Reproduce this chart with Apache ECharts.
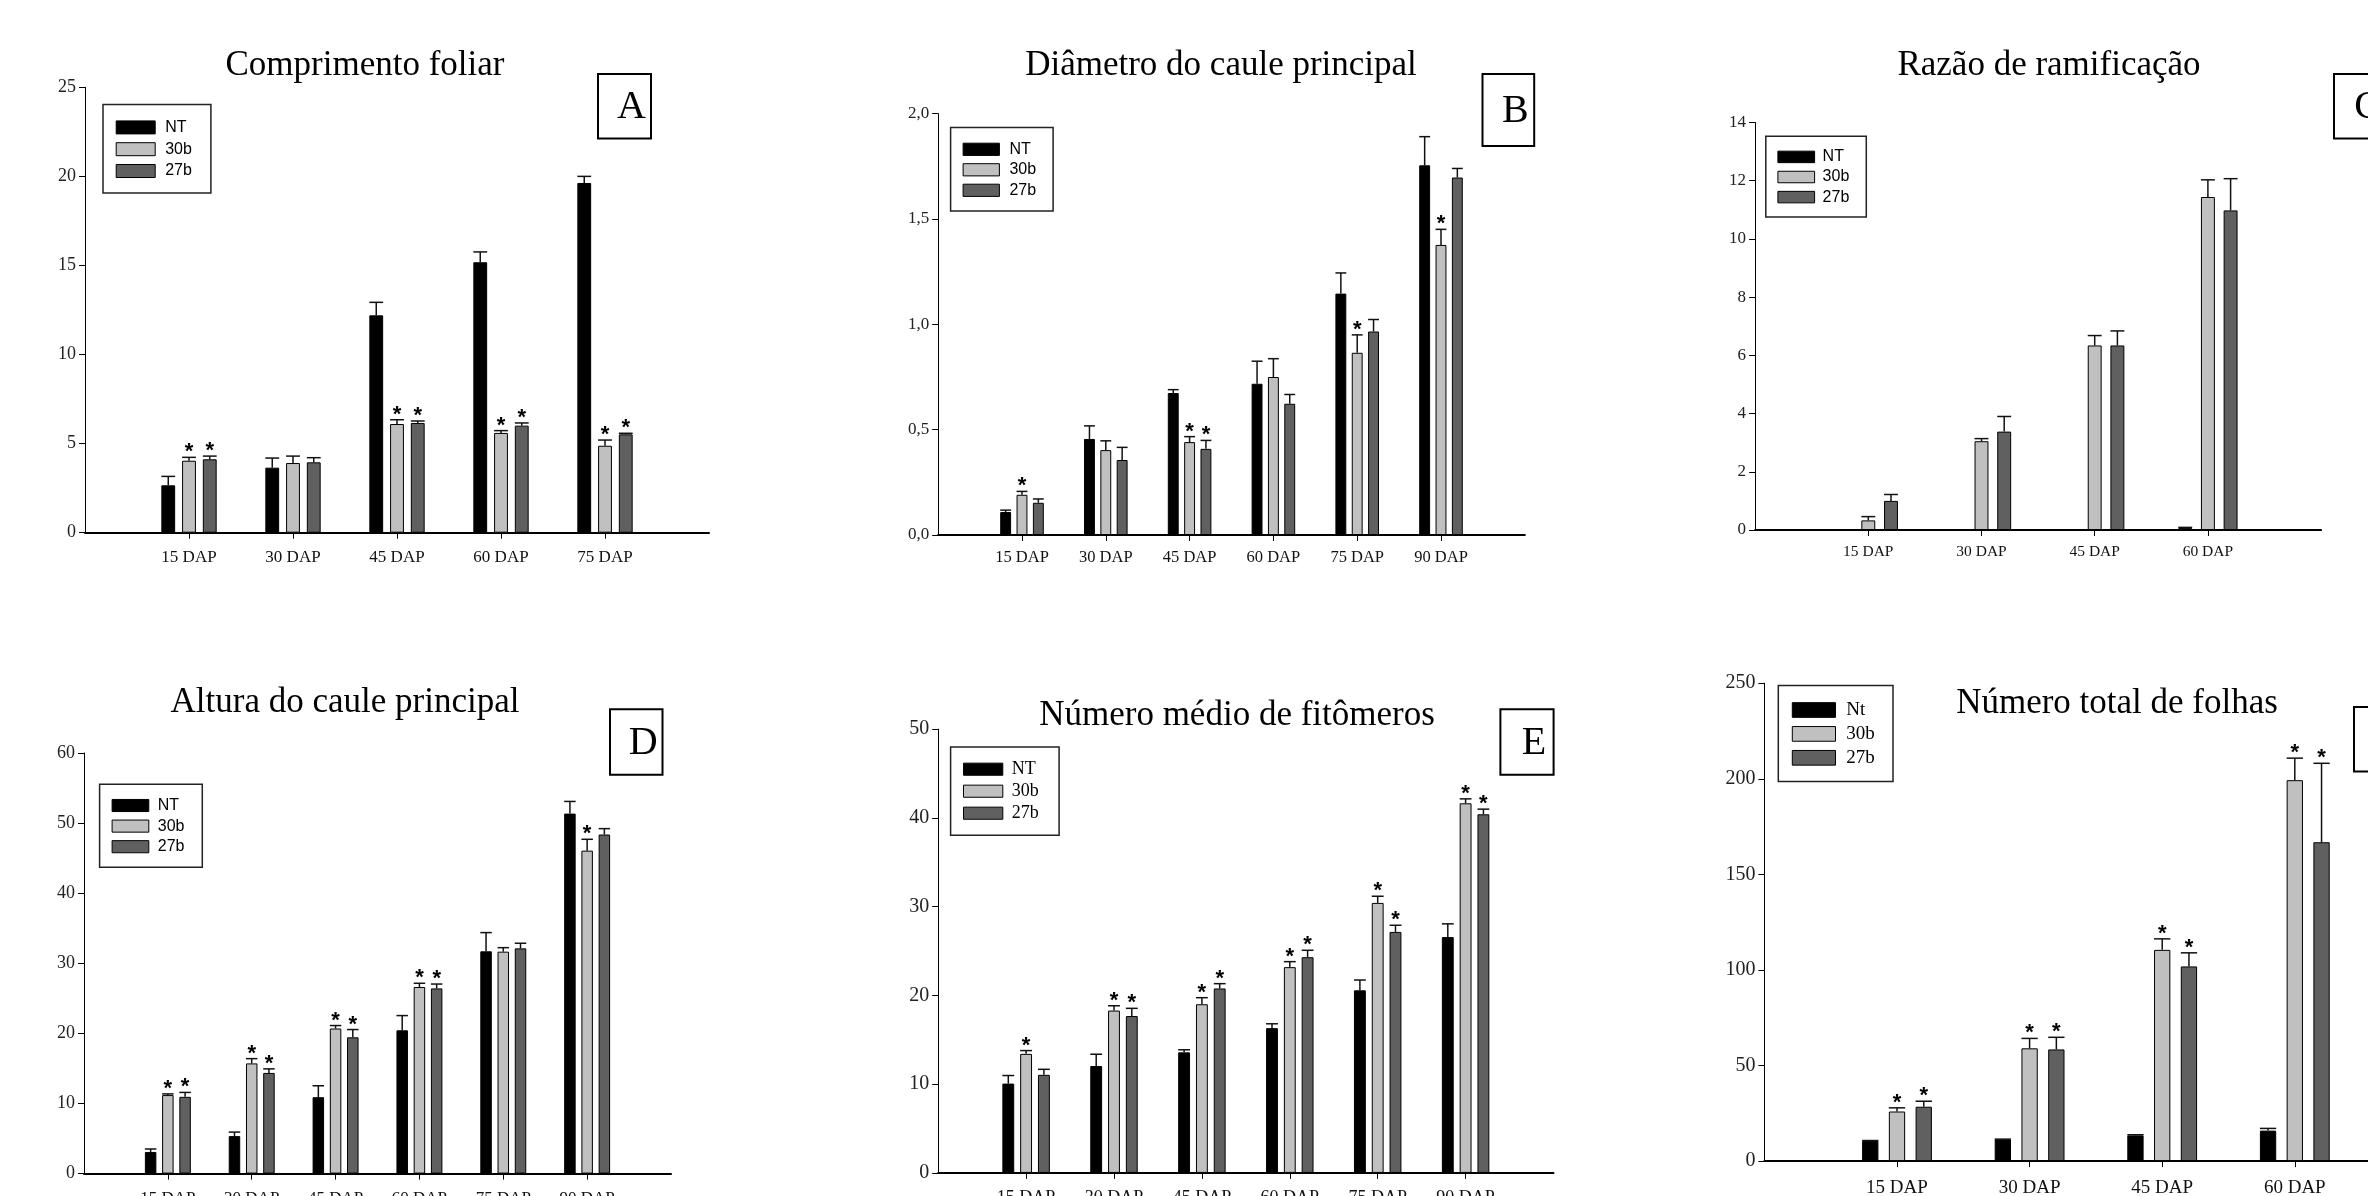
<!DOCTYPE html>
<html><head><meta charset="utf-8">
<script src="https://cdn.jsdelivr.net/npm/echarts@6/dist/echarts.min.js"></script>
<style>html,body{margin:0;padding:0;background:#fff}#c{width:2368px;height:1196px}</style>
</head><body><div id="c"></div>
<script>
// ---------------- DATA ----------------
// A: Comprimento foliar
const catA = ['15 DAP','30 DAP','45 DAP','60 DAP','75 DAP'];
const ntA = [2.66, 3.65, 12.2, 15.18, 19.63];
const ntErrA = [0.5, 0.54, 0.73, 0.58, 0.37];
const b30A = [4.04, 3.91, 6.1, 5.6, 4.88];
const b30ErrA = [0.19, 0.39, 0.24, 0.13, 0.32];
const b27A = [4.12, 3.95, 6.16, 6.01, 5.52];
const b27ErrA = [0.18, 0.26, 0.11, 0.15, 0.06];
const star30A = [1,0,1,1,1];
const star27A = [1,0,1,1,1];
// B: Diâmetro do caule principal
const catB = ['15 DAP','30 DAP','45 DAP','60 DAP','75 DAP','90 DAP'];
const ntB = [0.109, 0.456, 0.674, 0.718, 1.146, 1.755];
const ntErrB = [0.009, 0.062, 0.016, 0.107, 0.098, 0.136];
const b30B = [0.191, 0.403, 0.441, 0.75, 0.865, 1.377];
const b30ErrB = [0.016, 0.044, 0.026, 0.087, 0.085, 0.074];
const b27B = [0.153, 0.356, 0.409, 0.623, 0.966, 1.697];
const b27ErrB = [0.018, 0.06, 0.04, 0.044, 0.057, 0.043];
const star30B = [1,0,1,0,1,1];
const star27B = [0,0,1,0,0,0];
// C: Razão de ramificação
const catC = ['15 DAP','30 DAP','45 DAP','60 DAP'];
const ntC = [0, 0, 0, 0.065];
const ntErrC = [0, 0, 0, 0.025];
const b30C = [0.33, 3.05, 6.34, 11.44];
const b30ErrC = [0.13, 0.09, 0.34, 0.59];
const b27C = [1.0, 3.38, 6.34, 10.98];
const b27ErrC = [0.22, 0.52, 0.5, 1.09];
const star30C = [0,0,0,0];
const star27C = [0,0,0,0];
// D: Altura do caule principal
const catD = ['15 DAP','30 DAP','45 DAP','60 DAP','75 DAP','90 DAP'];
const ntD = [3.09, 5.35, 10.9, 20.44, 31.71, 51.36];
const ntErrD = [0.42, 0.57, 1.63, 2.1, 2.67, 1.73];
const b30D = [11.2, 15.72, 20.7, 26.62, 31.66, 46.07];
const b30ErrD = [0.17, 0.68, 0.42, 0.53, 0.57, 1.62];
const b27D = [10.95, 14.36, 19.44, 26.42, 32.13, 48.37];
const b27ErrD = [0.63, 0.58, 1.11, 0.62, 0.73, 0.84];
const star30D = [1,1,1,1,0,1];
const star27D = [1,1,1,1,0,0];
// E: Número médio de fitômeros
const catE = ['15 DAP','30 DAP','45 DAP','60 DAP','75 DAP','90 DAP'];
const ntE = [10.06, 12.04, 13.58, 16.31, 20.57, 26.57];
const ntErrE = [0.91, 1.33, 0.29, 0.49, 1.16, 1.49];
const b30E = [13.41, 18.29, 19.0, 23.18, 30.42, 41.64];
const b30ErrE = [0.37, 0.54, 0.74, 0.62, 0.75, 0.5];
const b27E = [11.05, 17.67, 20.78, 24.3, 27.15, 40.4];
const b27ErrE = [0.62, 0.87, 0.54, 0.78, 0.75, 0.58];
const star30E = [1,1,1,1,1,1];
const star27E = [0,1,1,1,1,1];
// F: Número total de folhas
const catF = ['15 DAP','30 DAP','45 DAP','60 DAP'];
const ntF = [10.57, 11.34, 13.45, 15.95];
const ntErrF = [0.19, 0.16, 0.35, 1.15];
const b30F = [25.94, 59.0, 110.5, 199.27];
const b30ErrF = [1.92, 5.18, 5.76, 11.53];
const b27F = [28.44, 58.42, 101.84, 166.8];
const b27ErrF = [2.88, 6.34, 7.11, 41.3];
const star30F = [1,1,1,1];
const star27F = [1,1,1,1];

const namesMain = ['NT','30b','27b'];
const namesF = ['Nt','30b','27b'];
// ---------------- LAYOUT / STYLE ----------------
const SERIF = '"Liberation Serif", "Times New Roman", serif';
const SANS = '"Liberation Sans", Arial, sans-serif';
const colors = ['#000000', '#c0c0c0', '#606060'];

const panels = [
  { title:'Comprimento foliar', letter:'A', cats:catA, vals:[ntA,b30A,b27A], errs:[ntErrA,b30ErrA,b27ErrA], stars:[null,star30A,star27A], names:namesMain, extra:1,
    grid:{left:85, top:87.3, width:624, height:445.4}, yMax:25, yInt:5, comma:false, yFont:18, xFont:17, xMargin:16, bw:0.133, gap:0.5,
    tpos:[365,66], box:[598,74,53,64.5],
    lg:{left:103, top:104.5, w:39, h:13, lh:16, spacing:21.8, pad:[14.9,19,14,12.7], tpad:5, font:SANS, fs:16} },
  { title:'Diâmetro do caule principal', letter:'B', cats:catB, vals:[ntB,b30B,b27B], errs:[ntErrB,b30ErrB,b27ErrB], stars:[null,star30B,star27B], names:namesMain, extra:1,
    grid:{left:938.2, top:113.7, width:586.6, height:421.3}, yMax:2, yInt:0.5, comma:true, yFont:17, xFont:16.5, xMargin:14, bw:0.13, gap:0.5,
    tpos:[1221,66], box:[1482.5,74,51.7,72],
    lg:{left:950.6, top:127.4, w:36.3, h:12.2, lh:16, spacing:20.5, pad:[13.9,17,12.6,12], tpad:5, font:SANS, fs:16} },
  { title:'Razão de ramificação', letter:'C', cats:catC, vals:[ntC,b30C,b27C], errs:[ntErrC,b30ErrC,b27ErrC], stars:[null,star30C,star27C], names:namesMain, extra:1,
    grid:{left:1755.1, top:122.5, width:566, height:407.5}, yMax:14, yInt:2, comma:false, yFont:17, xFont:15.5, xMargin:14, bw:0.123, gap:0.63,
    tpos:[2049,66], box:[2334,74,53,64.5],
    lg:{left:1765.8, top:136.2, w:36.7, h:11.5, lh:16, spacing:20.1, pad:[12.7,17,11.9,11.6], tpad:3, font:SANS, fs:16} },
  { title:'Altura do caule principal', letter:'D', cats:catD, vals:[ntD,b30D,b27D], errs:[ntErrD,b30ErrD,b27ErrD], stars:[null,star30D,star27D], names:namesMain, extra:1,
    grid:{left:84, top:753, width:587, height:420.6}, yMax:60, yInt:10, comma:false, yFont:18, xFont:17, xMargin:16, bw:0.137, gap:0.5,
    tpos:[345,703], box:[610,709.3,52.5,65.4],
    lg:{left:99.6, top:784.2, w:36.7, h:12.1, lh:16, spacing:20.6, pad:[13.3,17.8,12.5,12], tpad:4, font:SANS, fs:16} },
  { title:'Número médio de fitômeros', letter:'E', cats:catE, vals:[ntE,b30E,b27E], errs:[ntErrE,b30ErrE,b27ErrE], stars:[null,star30E,star27E], names:namesMain, extra:1,
    grid:{left:938.2, top:729.1, width:615.3, height:443.8}, yMax:50, yInt:10, comma:false, yFont:20, xFont:18, xMargin:16, bw:0.135, gap:0.5,
    tpos:[1237,716], box:[1500.4,709.3,53.2,65.4],
    lg:{left:950.6, top:747.1, w:39.3, h:12.1, lh:18, spacing:22, pad:[13.1,20.3,13.1,12.4], tpad:4, font:SERIF, fs:18} },
  { title:'Número total de folhas', letter:'F', cats:catF, vals:[ntF,b30F,b27F], errs:[ntErrF,b30ErrF,b27ErrF], stars:[null,star30F,star27F], names:namesF, extra:2,
    grid:{left:1764.4, top:683.2, width:795.6, height:477.9}, yMax:250, yInt:50, comma:false, yFont:20, xFont:19, xMargin:17, bw:0.123, gap:0.64,
    tpos:[2117,704], box:[2354,707,53,64.4],
    lg:{left:1778.3, top:685.4, w:43.2, h:14.7, lh:19, spacing:23.9, pad:[15.1,18.3,14.3,13.5], tpad:5.7, font:SERIF, fs:19} }
];

// ---------------- BUILD ----------------
function makeErr(frac, gapFrac, k) {
  return function (params, api) {
    const xi = api.value(0), m = api.value(1), t = api.value(2), s = api.value(3);
    if (!(t > m)) return { type: 'group', children: [] };
    const band = api.size([1, 0])[0];
    const bw = band * frac;
    const pb = api.coord([xi, m]), pt = api.coord([xi, t]);
    const cx = pb[0] + (k - 1) * bw * (1 + gapFrac);
    const half = bw * 0.5;
    const children = [
      { type: 'line', shape: { x1: cx, y1: pb[1], x2: cx, y2: pt[1] }, style: { stroke: '#111', lineWidth: 1.5 } },
      { type: 'line', shape: { x1: cx - half, y1: pt[1], x2: cx + half, y2: pt[1] }, style: { stroke: '#111', lineWidth: 1.5 } }
    ];
    if (s) children.push({ type: 'text', x: cx, y: pt[1] - 5,
      style: { text: '*', font: 'bold 22px ' + SANS, fill: '#000', align: 'center', verticalAlign: 'middle', textAlign: 'center', textVerticalAlign: 'middle' } });
    return { type: 'group', children };
  };
}

const grids = [], xAxes = [], yAxes = [], series = [], legends = [], graphics = [];
panels.forEach((p, gi) => {
  grids.push(Object.assign({ containLabel: false, outerBoundsMode: 'none' }, p.grid));
  const pads = [];
  for (let i = 1; i <= p.extra; i++) pads.push(' '.repeat(i));
  const axisCats = [''].concat(p.cats, pads);
  xAxes.push({
    type: 'category', gridIndex: gi, data: axisCats, boundaryGap: false,
    axisLine: { show: true, lineStyle: { color: '#000', width: 2 } },
    axisTick: { show: true, length: 6, interval: (i, v) => String(v).trim() !== '', lineStyle: { color: '#000', width: 1 } },
    axisLabel: { interval: 0, margin: p.xMargin, color: '#111', fontFamily: SERIF, fontSize: p.xFont },
    splitLine: { show: false }
  });
  yAxes.push({
    type: 'value', gridIndex: gi, min: 0, max: p.yMax, interval: p.yInt,
    axisLine: { show: true, lineStyle: { color: '#000', width: 1 } },
    axisTick: { show: true, length: 6, lineStyle: { color: '#000', width: 1 } },
    axisLabel: { margin: 9, color: '#222', fontFamily: SERIF, fontSize: p.yFont,
      formatter: p.comma ? (v => v.toFixed(1).replace('.', ',')) : (v => String(v)) },
    splitLine: { show: false }
  });
  p.vals.forEach((vals, k) => {
    const padded = [null].concat(vals, pads.map(() => null));
    series.push({
      type: 'bar', name: p.names[k], xAxisIndex: gi, yAxisIndex: gi, data: padded,
      barWidth: (p.bw * 100).toFixed(2) + '%', barGap: (p.gap * 100) + '%',
      itemStyle: { color: colors[k], borderColor: '#000', borderWidth: 1 },
      silent: true, z: 2
    });
    const errData = vals.map((v, i) => [i + 1, v, v + p.errs[k][i], p.stars[k] ? p.stars[k][i] : 0]);
    series.push({
      type: 'custom', name: 'err_' + p.letter + k, xAxisIndex: gi, yAxisIndex: gi,
      data: errData, renderItem: makeErr(p.bw, p.gap, k), silent: true, z: 3, clip: false
    });
  });
  const L = p.lg;
  legends.push({
    data: p.names, orient: 'vertical', left: L.left, top: L.top, padding: L.pad,
    itemWidth: L.w, itemHeight: L.h, itemGap: L.spacing - L.lh,
    borderColor: '#222', borderWidth: 1.5, backgroundColor: '#fff',
    icon: 'rect', selectedMode: false,
    itemStyle: { borderColor: '#000', borderWidth: 1 },
    textStyle: { fontFamily: L.font, fontSize: L.fs, color: '#000', lineHeight: L.lh, padding: [0, 0, 0, L.tpad] }
  });
  graphics.push({ type: 'text', x: p.tpos[0], y: p.tpos[1], z: 10,
    style: { text: p.title, font: '35px ' + SERIF, fill: '#000', align: 'center', verticalAlign: 'middle', textAlign: 'center', textVerticalAlign: 'middle' } });
  const b = p.box;
  graphics.push({ type: 'rect', z: 10, shape: { x: b[0], y: b[1], width: b[2], height: b[3] },
    style: { fill: '#fff', stroke: '#000', lineWidth: 2 } });
  graphics.push({ type: 'text', z: 11, x: b[0] + b[2] / 2 + 7, y: b[1] + b[3] / 2 + 1,
    style: { text: p.letter, font: '40px ' + SERIF, fill: '#000', align: 'center', verticalAlign: 'middle', textAlign: 'center', textVerticalAlign: 'middle' } });
});

const chart = echarts.init(document.getElementById('c'), null, { renderer: 'canvas', width: 2368, height: 1196 });
chart.setOption({
  backgroundColor: '#fff',
  animation: false,
  grid: grids, xAxis: xAxes, yAxis: yAxes, series: series, legend: legends,
  graphic: { elements: graphics }
});
</script>
</body></html>
